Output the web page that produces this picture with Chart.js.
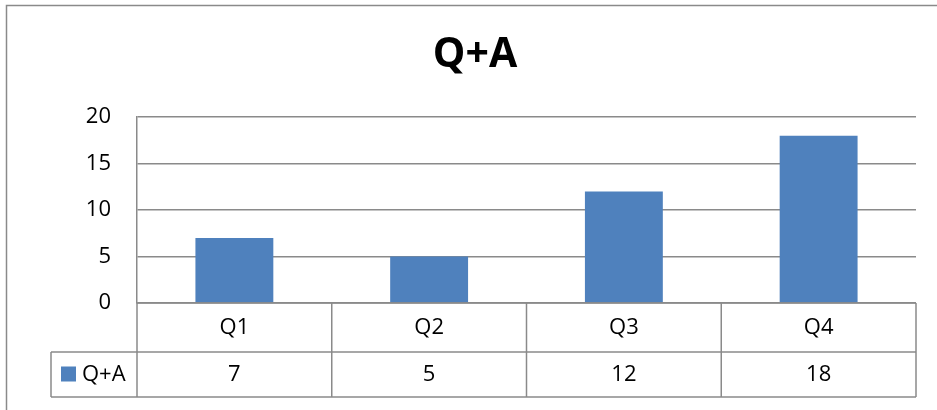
<!DOCTYPE html>
<html>
<head>
<meta charset="utf-8">
<script src="https://cdn.jsdelivr.net/npm/chart.js@4.4.0/dist/chart.umd.min.js"></script>
<style>
  html, body { margin: 0; padding: 0; background: #fff; }
  #wrap { width: 937px; height: 410px; }
</style>
</head>
<body>
<div id="wrap"><canvas id="qaChart" width="937" height="410"></canvas></div>
<script>
const categories = ['Q1', 'Q2', 'Q3', 'Q4'];
const seriesName = 'Q+A';
const seriesValues = [7, 5, 12, 18];
const yTicks = [0, 5, 10, 15, 20];

const fontFamily = "'Open Sans', sans-serif";
const lineColor = '#8a8a8a';
const barColor = '#4F81BD';

// outer frame of the chart object (right/bottom edges fall outside the shot)
const framePlugin = {
  id: 'frame',
  beforeDraw(chart) {
    const ctx = chart.ctx;
    ctx.save();
    ctx.strokeStyle = lineColor;
    ctx.lineWidth = 1.5;
    ctx.strokeRect(6.5, 5.5, 960, 440);
    ctx.restore();
  }
};

// data table under the plot, like Excel's "show data table"
const tablePlugin = {
  id: 'dataTable',
  afterDraw(chart) {
    const ctx = chart.ctx;
    const xs = chart.scales.x;
    const area = chart.chartArea;
    const headTop = area.bottom;
    const rowTop = xs.bottom;
    const rowBottom = rowTop + 45;
    const legendLeft = 51;
    const colW = (area.right - area.left) / categories.length;

    ctx.save();
    ctx.strokeStyle = lineColor;
    ctx.lineWidth = 1.5;
    ctx.beginPath();
    ctx.moveTo(area.left, headTop); ctx.lineTo(area.right, headTop);
    ctx.moveTo(legendLeft, rowTop); ctx.lineTo(area.right, rowTop);
    ctx.moveTo(legendLeft, rowBottom); ctx.lineTo(area.right, rowBottom);
    ctx.moveTo(legendLeft, rowTop); ctx.lineTo(legendLeft, rowBottom);
    for (let i = 0; i <= categories.length; i++) {
      const x = area.left + colW * i;
      ctx.moveTo(x, headTop); ctx.lineTo(x, rowBottom);
    }
    ctx.stroke();

    const midY = (rowTop + rowBottom) / 2;
    ctx.fillStyle = '#000';
    ctx.font = `22px ${fontFamily}`;
    ctx.textAlign = 'center';
    ctx.textBaseline = 'middle';
    seriesValues.forEach((v, i) => {
      ctx.fillText(String(v), xs.getPixelForValue(i), midY);
    });

    ctx.fillStyle = barColor;
    ctx.fillRect(61, midY - 8, 15, 15);
    ctx.fillStyle = '#000';
    ctx.textAlign = 'left';
    ctx.fillText(seriesName, 82, midY);
    ctx.restore();
  }
};

new Chart(document.getElementById('qaChart'), {
  type: 'bar',
  data: {
    labels: categories,
    datasets: [{
      label: seriesName,
      data: seriesValues,
      backgroundColor: barColor,
      barPercentage: 0.4,
      categoryPercentage: 1
    }]
  },
  options: {
    responsive: false,
    animation: false,
    layout: { padding: { left: 13, right: 0, top: 0, bottom: 58 } },
    scales: {
      x: {
        grid: { display: false, drawTicks: false },
        border: { display: false },
        ticks: { color: '#000', font: { family: fontFamily, size: 22 }, padding: 12 },
        afterFit(scale) { scale.height = 49; }
      },
      y: {
        min: 0,
        max: 20,
        afterBuildTicks(scale) { scale.ticks = yTicks.map(v => ({ value: v })); },
        grid: { color: lineColor, lineWidth: 1.5, drawTicks: false },
        border: { display: true, color: lineColor, width: 1.5 },
        ticks: { color: '#000', font: { family: fontFamily, size: 22 }, padding: 26 },
        afterFit(scale) { scale.width = 124; }
      },
      // empty spacer on the right so the plot ends where Excel's did
      spacer: {
        type: 'linear',
        position: 'right',
        grid: { display: false, drawTicks: false },
        border: { display: false },
        ticks: { display: false },
        afterFit(scale) { scale.width = 21; }
      }
    },
    plugins: {
      legend: { display: false },
      tooltip: { enabled: false },
      title: {
        display: true,
        text: 'Q+A',
        color: '#000',
        font: { family: fontFamily, size: 41, weight: 'bold' },
        padding: { top: 31, bottom: 37 }
      }
    }
  },
  plugins: [framePlugin, tablePlugin]
});
</script>
</body>
</html>
